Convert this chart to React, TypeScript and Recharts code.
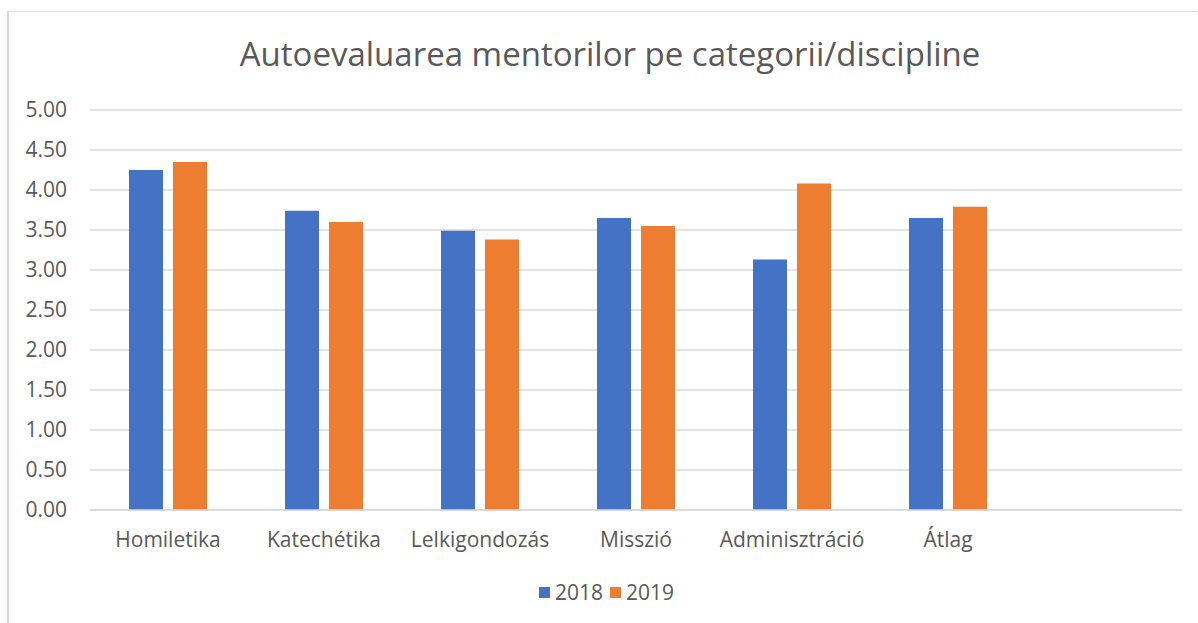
import React from "react";
import { BarChart, Bar, XAxis, YAxis, CartesianGrid } from "recharts";

const categories = ["Homiletika", "Katechétika", "Lelkigondozás", "Misszió", "Adminisztráció", "Átlag", " "];
const values2018 = [4.25, 3.74, 3.49, 3.65, 3.13, 3.65, null];
const values2019 = [4.35, 3.6, 3.38, 3.55, 4.08, 3.79, null];
const yTicks = [0, 0.5, 1, 1.5, 2, 2.5, 3, 3.5, 4, 4.5, 5];
const seriesNames = ["2018", "2019"];
const colors = ["#4472C4", "#ED7D31"];

const data = categories.map((c, i) => ({ name: c, y2018: values2018[i], y2019: values2019[i] }));

const FONT = "'Open Sans', sans-serif";
const GREY = "#595959";

export default function App() {
  return (
    <div style={{ position: "fixed", left: 0, top: 0, width: 1198, height: 623, background: "#fff", fontFamily: FONT }}>
      <div style={{ position: "absolute", left: 7, top: 11, width: 1190, height: 640, borderTop: "1px solid #d9d9d9", borderLeft: "2px solid #d9d9d9", boxSizing: "border-box" }} />
      <div style={{ position: "absolute", left: 0, top: 31, width: 1220, textAlign: "center", fontSize: 33, color: GREY, whiteSpace: "nowrap" }}>
        Autoevaluarea mentorilor pe categorii/discipline
      </div>
      <div style={{ position: "absolute", left: 0, top: 0 }}>
        <BarChart width={1198} height={623} data={data} margin={{ top: 110, right: 16, left: 20, bottom: 73 }} barCategoryGap="25%" barGap={10}>
          <CartesianGrid horizontal={true} vertical={false} stroke="#d9d9d9" strokeWidth={1.5} />
          <XAxis dataKey="name" axisLine={{ stroke: "#d9d9d9", strokeWidth: 1.5 }} tickLine={false} tickSize={0} tickMargin={22} height={40}
            tick={{ fill: GREY, fontSize: 21, fontFamily: FONT }} interval={0} />
          <YAxis width={70} domain={[0, 5]} ticks={yTicks} axisLine={false} tickLine={false} tickSize={0} tickMargin={23}
            tickFormatter={(v: number) => v.toFixed(2)} tick={{ fill: GREY, fontSize: 21, fontFamily: FONT }} />
          <Bar dataKey="y2018" name={seriesNames[0]} fill={colors[0]} isAnimationActive={false} />
          <Bar dataKey="y2019" name={seriesNames[1]} fill={colors[1]} isAnimationActive={false} />
        </BarChart>
      </div>
      <div style={{ position: "absolute", left: 539, top: 578, display: "flex", alignItems: "center", fontSize: 21, color: GREY, whiteSpace: "nowrap" }}>
        {seriesNames.map((n, i) => (
          <div key={n} style={{ display: "flex", alignItems: "center", marginRight: 7 }}>
            <div style={{ width: 11, height: 11, background: colors[i], marginRight: 5 }} />
            <span>{n}</span>
          </div>
        ))}
      </div>
    </div>
  );
}
